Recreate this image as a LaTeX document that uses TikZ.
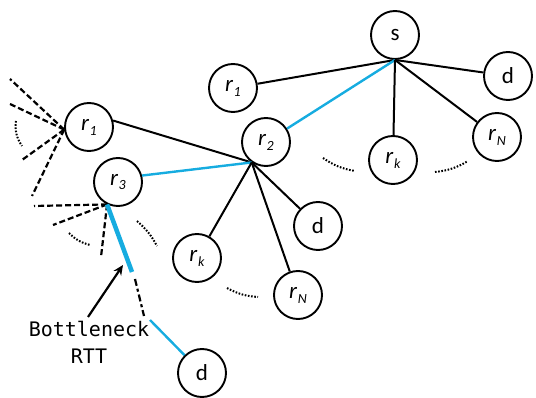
\documentclass[tikz,border=0pt]{standalone}
\usepackage{fontspec}
\setmainfont{Carlito}
\newfontfamily\codefont{DejaVu Sans Mono}
\usetikzlibrary{arrows.meta}
\definecolor{pathblue}{RGB}{22,172,224}
\newcommand{\rn}[1]{\textit{r}\kern0.5pt\raisebox{-0.45ex}{\fontsize{14}{14}\selectfont\textit{#1}}}
\begin{document}
\begin{tikzpicture}[x=1pt,y=-1pt,
  peer/.style={circle,draw,line width=1.9pt,minimum size=48pt,inner sep=0pt,
    font=\fontsize{23}{23}\selectfont},
  link/.style={line width=2pt},
  hot/.style={line width=2.4pt,pathblue},
  thickhot/.style={line width=4.5pt,pathblue},
  unseen/.style={line width=2.2pt,dash pattern=on 6pt off 3pt},
  gap/.style={line width=2pt,dash pattern=on 1.6pt off 1.6pt}]
\useasboundingbox (0,0) rectangle (536,398);

% upper tree rooted at the source
\node[peer] (s)   at (395,35)  {s};
\node[peer] (dA)  at (508,76)  {d};
\node[peer] (r1A) at (233,88)  {\rn{1}};
\node[peer] (r2)  at (266,142) {\rn{2}};
\node[peer] (rkA) at (393,160) {\rn{k}};
\node[peer] (rNA) at (497,137) {\rn{N}};

% subtree hanging from r2
\node[peer] (r1B) at (89,127)  {\rn{1}};
\node[peer] (r3)  at (118,182) {\rn{3}};
\node[peer] (rkB) at (197,258) {\rn{k}};
\node[peer] (dB)  at (318,226) {d};
\node[peer] (rNB) at (298,295) {\rn{N}};
\node[peer] (dC)  at (202,373) {d};

% links out of s
\draw[link] (s.south) -- (r1A);
\draw[hot]  (s.south) -- (r2);
\draw[link] (s.south) -- (rkA);
\draw[link] (s.south) -- (rNA);
\draw[link] (s.south) -- (dA);

% links out of r2
\draw[link] (r2.235) -- (r1B.15);
\draw[hot]  (r2.235) -- (r3.15);
\draw[link] (r2.235) -- (rkB);
\draw[link] (r2.235) -- (rNB);
\draw[link] (r2.235) -- (dB);

% links out of r1 (not shown in full)
\coordinate (u1) at (10,79);
\coordinate (u2) at (10,104);
\coordinate (u3) at (22,160);
\coordinate (u4) at (32,196);
\foreach \p in {u1,u2,u3,u4} \draw[unseen] (r1B.186) -- (\p);

% links out of r3 (not shown in full)
\coordinate (v1) at (34,206);
\coordinate (v2) at (53,225);
\coordinate (v3) at (101,257);
\foreach \p in {v1,v2,v3} \draw[unseen] (r3.244) -- (\p);

% bottleneck path from r3 to d
\coordinate (b1) at (132,272);
\coordinate (b2) at (135,279);
\coordinate (b3) at (144,316);
\coordinate (b4) at (150,320);
\draw[thickhot] (r3.244) -- (b1);
\draw[line width=2.2pt,dash pattern=on 7pt off 3pt on 3pt off 3pt] (b2) -- (b3);
\draw[hot] (b4) -- (dC);

% elided siblings
\coordinate (g1a) at (16,121); \coordinate (g1b) at (22,146);
\coordinate (g2a) at (69,233); \coordinate (g2b) at (90,245);
\coordinate (g3a) at (137,221); \coordinate (g3b) at (157,246);
\coordinate (g4a) at (227,288); \coordinate (g4b) at (258,297);
\coordinate (g5a) at (323,158); \coordinate (g5b) at (355,171);
\coordinate (g6a) at (435,172); \coordinate (g6b) at (468,161);
\draw[gap] (g1a) to[bend right=20] (g1b);
\draw[gap] (g2a) to[bend right=15] (g2b);
\draw[gap] (g3a) to[bend left=10] (g3b);
\draw[gap] (g4a) to[bend right=12] (g4b);
\draw[gap] (g5a) to[bend right=12] (g5b);
\draw[gap] (g6a) to[bend right=12] (g6b);

% annotation
\node[font=\codefont\fontsize{20}{27}\selectfont,align=center,inner sep=0pt]
  (note) at (89,342) {Bottleneck\\RTT};
\coordinate (tail) at (88,317);
\coordinate (tip) at (123,265);
\draw[line width=2.2pt,-{Stealth[length=10pt,width=9pt]}] (tail) -- (tip);
\end{tikzpicture}
\end{document}
